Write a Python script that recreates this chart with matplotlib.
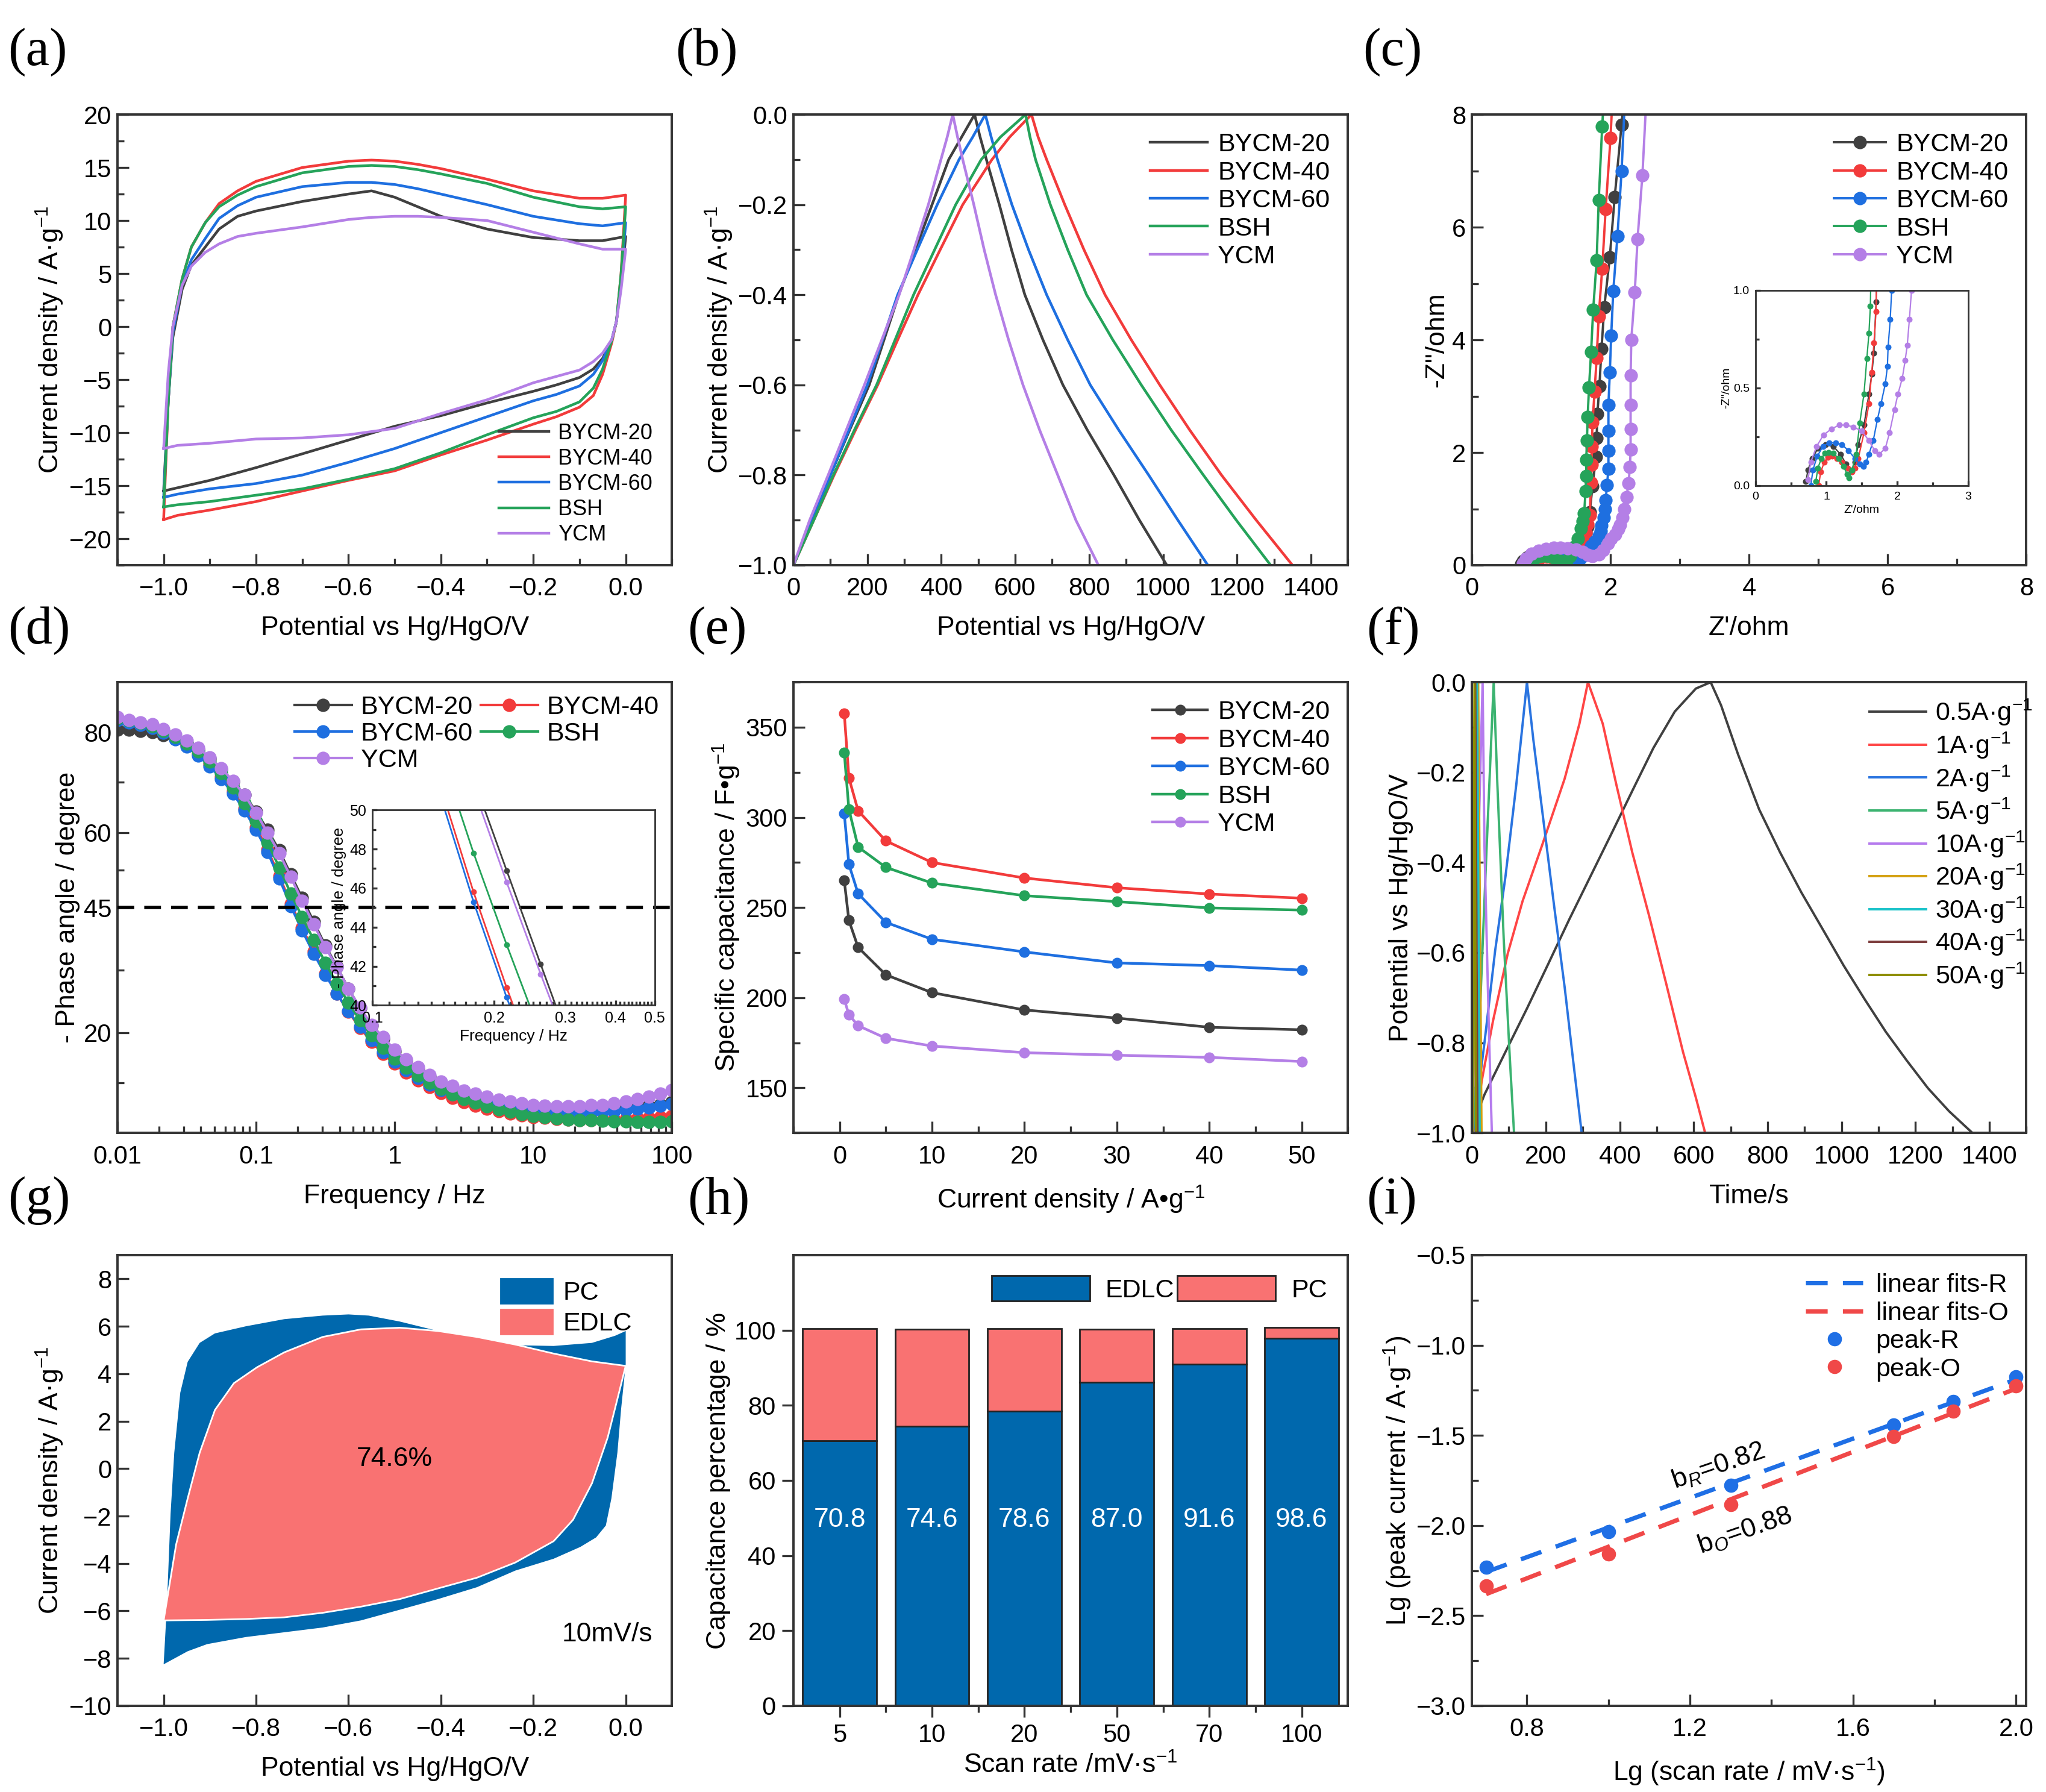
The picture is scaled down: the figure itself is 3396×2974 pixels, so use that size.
import numpy as np
import matplotlib
matplotlib.use("Agg")
import matplotlib.pyplot as plt
from matplotlib.ticker import MultipleLocator, FixedLocator
from matplotlib.patches import Patch

plt.rcParams['font.family'] = ['Liberation Sans', 'DejaVu Sans']
plt.rcParams['mathtext.fontset'] = 'custom'
plt.rcParams['mathtext.rm'] = 'Liberation Sans'
plt.rcParams['mathtext.it'] = 'Liberation Sans:italic'

# colours
C20 = '#404040'
C40 = '#f23b3b'
C60 = '#1e6fe0'
CBSH = '#25a35a'
CYCM = '#b47fe6'
BLUE = '#0068ad'
SALMON = '#f97272'

names = ["BYCM-20", "BYCM-40", "BYCM-60", "BSH", "YCM"]
colors = [C20, C40, C60, CBSH, CYCM]

# ---------------- (a) CV curves ----------------
cv_x_up = [-1.0, -0.99, -0.98, -0.96, -0.94, -0.91, -0.88, -0.84, -0.8, -0.7,
           -0.6, -0.55, -0.5, -0.45, -0.4, -0.3, -0.2, -0.1, -0.05, 0.0]
cv_x_dn = [0.0, -0.01, -0.02, -0.03, -0.05, -0.07, -0.1, -0.15, -0.2, -0.3,
           -0.4, -0.5, -0.6, -0.7, -0.8, -0.9, -0.97, -1.0]
b20_up = [-15.5, -7.0, -1.0, 3.5, 5.8, 7.5, 9.2, 10.4, 10.9, 11.8, 12.5, 12.8, 12.2, 11.3, 10.4, 9.2, 8.4, 8.1, 8.1, 8.5]
b40_up = [-18.2, -7.0, 0.0, 4.5, 7.5, 9.8, 11.6, 12.8, 13.7, 15.0, 15.6, 15.7, 15.6, 15.3, 14.9, 13.9, 12.8, 12.1, 12.1, 12.4]
b60_up = [-16.1, -7.0, -0.5, 4.0, 6.3, 8.3, 10.2, 11.4, 12.2, 13.2, 13.6, 13.6, 13.4, 13.0, 12.5, 11.5, 10.4, 9.7, 9.5, 9.8]
bsh_up = [-17.0, -7.0, 0.0, 4.5, 7.5, 9.8, 11.3, 12.4, 13.2, 14.5, 15.1, 15.2, 15.1, 14.8, 14.4, 13.5, 12.2, 11.3, 11.1, 11.3]
ycm_up = [-11.5, -4.4, 0.0, 3.9, 5.7, 7.0, 7.8, 8.5, 8.8, 9.4, 10.1, 10.3, 10.4, 10.4, 10.3, 10.0, 8.9, 7.8, 7.3, 7.3]
b20_dn = [8.5, 4.0, 0.5, -1.3, -3.0, -4.0, -4.8, -5.5, -6.1, -7.2, -8.4, -9.4, -10.7, -12.0, -13.3, -14.5, -15.2, -15.5]
b40_dn = [12.4, 5.0, 0.5, -1.5, -4.5, -6.5, -7.6, -8.5, -9.2, -10.7, -12.1, -13.6, -14.5, -15.5, -16.5, -17.3, -17.8, -18.2]
b60_dn = [9.8, 4.5, 0.5, -1.2, -3.2, -4.5, -5.6, -6.4, -7.0, -8.5, -10.0, -11.5, -12.8, -14.0, -14.8, -15.3, -15.8, -16.1]
bsh_dn = [11.3, 5.0, 0.5, -1.3, -4.0, -5.8, -7.1, -8.0, -8.6, -10.2, -11.9, -13.4, -14.4, -15.3, -15.9, -16.5, -16.8, -17.0]
ycm_dn = [7.3, 3.5, 0.5, -1.2, -2.5, -3.3, -4.1, -4.7, -5.3, -6.9, -8.2, -9.6, -10.2, -10.5, -10.6, -11.0, -11.2, -11.5]

# ---------------- (b) GCD of samples ----------------
gcd_v_ch = [-1.0, -0.9, -0.8, -0.7, -0.6, -0.5, -0.4, -0.3, -0.2, -0.1, -0.05, 0.0]
gcd_v_dis = [0.0, -0.05, -0.1, -0.2, -0.3, -0.4, -0.5, -0.6, -0.7, -0.8, -0.9, -1.0]
b20_ch = [0, 50, 100, 152, 205, 245, 285, 330, 375, 420, 455, 490]
b40_ch = [0, 55, 110, 168, 228, 282, 337, 397, 458, 537, 585, 644]
b60_ch = [0, 50, 100, 150, 200, 241, 282, 335, 389, 448, 485, 519]
bsh_ch = [0, 55, 108, 165, 225, 275, 325, 382, 439, 508, 560, 628]
ycm_ch = [0, 44, 94, 143, 192, 239, 286, 326, 365, 399, 416, 431]
b20_dis = [490, 505, 522, 557, 590, 626, 675, 729, 795, 867, 936, 1010]
b40_dis = [644, 662, 685, 734, 786, 843, 914, 991, 1072, 1158, 1252, 1350]
b60_dis = [519, 535, 552, 591, 636, 685, 742, 803, 880, 961, 1040, 1121]
bsh_dis = [628, 640, 655, 695, 742, 793, 864, 941, 1022, 1109, 1198, 1291]
ycm_dis = [431, 444, 458, 488, 516, 547, 582, 621, 666, 715, 764, 825]

# ---------------- (c) Nyquist ----------------
b20_zr = [0.71, 0.74, 0.80, 0.88, 0.99, 1.10, 1.20, 1.28, 1.35, 1.40, 1.45, 1.53, 1.60, 1.64, 1.67, 1.70, 1.74, 1.79, 1.80, 1.81, 1.84, 1.87, 1.91, 1.99, 2.06, 2.16, 2.22]
b20_zi = [0.02, 0.08, 0.14, 0.19, 0.21, 0.20, 0.16, 0.11, 0.07, 0.12, 0.21, 0.31, 0.47, 0.57, 0.68, 0.94, 1.40, 1.92, 2.26, 2.68, 3.18, 3.84, 4.58, 5.47, 6.53, 7.82, 8.6]
b40_zr = [0.89, 0.92, 0.97, 1.02, 1.08, 1.15, 1.22, 1.30, 1.36, 1.40, 1.45, 1.53, 1.60, 1.64, 1.67, 1.70, 1.72, 1.73, 1.73, 1.74, 1.77, 1.80, 1.83, 1.88, 1.93, 2.00, 2.04]
b40_zi = [0.00, 0.07, 0.12, 0.145, 0.15, 0.14, 0.12, 0.09, 0.07, 0.09, 0.14, 0.27, 0.42, 0.58, 0.73, 0.89, 1.47, 1.79, 2.11, 2.53, 3.08, 3.68, 4.42, 5.26, 6.32, 7.58, 8.6]
b60_zr = [0.78, 0.81, 0.87, 0.95, 1.04, 1.13, 1.22, 1.31, 1.40, 1.47, 1.52, 1.56, 1.60, 1.66, 1.72, 1.77, 1.83, 1.86, 1.87, 1.90, 1.92, 1.93, 1.95, 1.97, 1.97, 1.97, 1.97, 1.99, 2.01, 2.04, 2.10, 2.16, 2.22]
b60_zi = [0.00, 0.08, 0.15, 0.20, 0.22, 0.22, 0.21, 0.18, 0.14, 0.11, 0.10, 0.12, 0.16, 0.23, 0.34, 0.42, 0.52, 0.61, 0.71, 0.85, 1.00, 1.16, 1.42, 1.71, 2.03, 2.39, 2.84, 3.42, 4.08, 4.87, 5.84, 7.00, 8.6]
bsh_zr = [0.85, 0.88, 0.93, 0.98, 1.03, 1.10, 1.17, 1.24, 1.29, 1.32, 1.36, 1.42, 1.47, 1.53, 1.57, 1.60, 1.62, 1.64, 1.65, 1.65, 1.66, 1.67, 1.69, 1.72, 1.75, 1.80, 1.83, 1.88, 1.92]
bsh_zi = [0.02, 0.09, 0.14, 0.165, 0.17, 0.165, 0.14, 0.10, 0.06, 0.04, 0.08, 0.16, 0.32, 0.47, 0.65, 0.78, 0.92, 1.32, 1.58, 1.87, 2.21, 2.63, 3.16, 3.79, 4.53, 5.41, 6.48, 7.79, 8.6]
ycm_zr = [0.74, 0.78, 0.86, 0.96, 1.07, 1.18, 1.28, 1.38, 1.50, 1.60, 1.68, 1.74, 1.83, 1.89, 1.96, 2.01, 2.07, 2.11, 2.14, 2.17, 2.20, 2.23, 2.26, 2.28, 2.29, 2.29, 2.29, 2.29, 2.30, 2.35, 2.39, 2.46, 2.53]
ycm_zi = [0.03, 0.12, 0.20, 0.26, 0.29, 0.31, 0.31, 0.30, 0.28, 0.23, 0.18, 0.16, 0.19, 0.27, 0.39, 0.47, 0.55, 0.64, 0.72, 0.85, 1.00, 1.21, 1.45, 1.74, 2.05, 2.42, 2.84, 3.37, 4.00, 4.84, 5.79, 6.92, 8.6]

# ---------------- (d) Bode phase ----------------
decade_steps = [1.0, 1.21, 1.47, 1.78, 2.15, 2.61, 3.16, 3.83, 4.64, 5.62, 6.81, 8.25]
bode_freq = [b * 10.0 ** e for e in range(-2, 2) for b in decade_steps] + [100.0]
b20_ph = [80.5, 80.5, 80.3, 80.0, 79.4, 78.7, 77.9, 76.6, 74.8, 72.6, 70.2, 67.5,
          64.2, 60.5, 56.4, 51.6, 46.9, 42.1, 37.4, 33.2, 28.8, 24.9, 21.4, 18.8,
          16.3, 14.3, 12.7, 11.2, 9.9, 8.9, 8.0, 7.3, 6.7, 6.1, 5.7, 5.3,
          5.0, 4.8, 4.6, 4.5, 4.5, 4.5, 4.6, 4.7, 4.9, 5.1, 5.4, 5.7, 6.1]
b40_ph = [82.6, 82.1, 81.6, 81.0, 80.0, 78.8, 77.4, 75.7, 73.6, 71.1, 68.2, 64.8,
          61.0, 56.6, 51.3, 45.8, 40.9, 36.2, 31.8, 27.8, 24.2, 21.0, 18.2, 15.8,
          13.8, 12.0, 10.5, 9.2, 8.0, 7.0, 6.1, 5.4, 4.8, 4.3, 3.9, 3.5,
          3.2, 3.0, 2.8, 2.7, 2.6, 2.6, 2.6, 2.7, 2.8, 2.9, 3.0, 3.2, 3.4]
b60_ph = [82.5, 82.0, 81.5, 80.9, 79.9, 78.6, 77.2, 75.4, 73.2, 70.7, 67.8, 64.4,
          60.5, 56.1, 50.8, 45.3, 40.4, 35.8, 31.6, 27.8, 24.3, 21.2, 18.5, 16.2,
          14.2, 12.5, 11.0, 9.7, 8.6, 7.7, 6.9, 6.2, 5.7, 5.2, 4.8, 4.5,
          4.3, 4.1, 4.0, 4.0, 4.0, 4.1, 4.2, 4.4, 4.6, 4.8, 5.1, 5.4, 5.8]
bsh_ph = [82.8, 82.3, 81.8, 81.3, 80.3, 79.1, 77.8, 76.2, 74.2, 71.8, 69.0, 65.8,
          62.2, 58.0, 53.0, 47.8, 43.1, 38.5, 34.0, 29.8, 26.0, 22.5, 19.5, 17.0,
          14.8, 13.0, 11.4, 10.0, 8.8, 7.7, 6.8, 6.0, 5.3, 4.7, 4.2, 3.8,
          3.4, 3.1, 2.9, 2.7, 2.6, 2.5, 2.4, 2.3, 2.3, 2.2, 2.2, 2.2, 2.3]
ycm_ph = [83.0, 82.5, 82.0, 81.6, 80.6, 79.5, 78.4, 76.9, 75.0, 72.8, 70.3, 67.5,
          63.9, 60.0, 55.9, 51.1, 46.3, 41.6, 37.1, 33.1, 28.8, 25.0, 21.6, 19.1,
          16.6, 14.7, 13.1, 11.6, 10.3, 9.4, 8.4, 7.8, 7.2, 6.6, 6.25, 5.9,
          5.6, 5.4, 5.3, 5.3, 5.3, 5.5, 5.6, 5.9, 6.25, 6.75, 7.2, 7.8, 8.6]

# ---------------- (e) rate capability ----------------
cur_density = [0.5, 1, 2, 5, 10, 20, 30, 40, 50]
b20_cap = [265.0, 242.9, 227.9, 212.7, 202.8, 193.2, 188.7, 183.6, 182.2]
b40_cap = [357.7, 322.0, 303.7, 287.0, 275.0, 266.4, 261.0, 257.5, 255.2]
b60_cap = [302.1, 274.0, 257.7, 241.8, 232.4, 225.4, 219.3, 217.8, 215.3]
bsh_cap = [335.9, 304.5, 283.6, 272.3, 263.6, 256.6, 253.3, 249.8, 248.6]
ycm_cap = [199.1, 190.6, 184.5, 177.5, 173.2, 169.5, 168.1, 166.9, 164.6]

# ---------------- (f) GCD at different current densities ----------------
rate_labels = ["0.5", "1", "2", "5", "10", "20", "30", "40", "50"]
rate_colors = [C20, '#ff4545', '#2a74e0', '#3cb371', '#b57bee', '#d4a010', '#19c2c9', '#7b3b3b', '#8c8c00']
f05_t = [3, 11, 34, 91, 149, 206, 263, 320, 377, 434, 491, 549, 606, 646, 674, 720, 777, 834, 891, 949, 1006, 1063, 1120, 1177, 1234, 1291, 1354]
f05_v = [-1.0, -0.963, -0.915, -0.82, -0.724, -0.626, -0.527, -0.432, -0.337, -0.241, -0.146, -0.065, -0.014, 0.0, -0.051, -0.16, -0.282, -0.378, -0.466, -0.548, -0.629, -0.704, -0.776, -0.84, -0.901, -0.952, -1.0]
f1_t = [3, 29, 57, 97, 137, 189, 251, 291, 314, 354, 391, 434, 480, 526, 571, 606, 631]
f1_v = [-1.0, -0.874, -0.752, -0.602, -0.486, -0.364, -0.214, -0.092, 0.0, -0.092, -0.228, -0.378, -0.52, -0.67, -0.82, -0.922, -1.0]
f2_t = [3, 34, 63, 91, 120, 149, 166, 194, 223, 251, 274, 297]
f2_v = [-1.0, -0.8, -0.595, -0.43, -0.228, 0.0, -0.126, -0.31, -0.5, -0.677, -0.84, -1.0]
f5_t = [3, 23, 40, 59, 69, 86, 103, 114]
f5_v = [-1.0, -0.707, -0.364, 0.0, -0.228, -0.568, -0.84, -1.0]
f10_t = [2, 10, 29, 34, 46, 54]
f10_v = [-1.0, -0.6, 0.0, -0.364, -0.772, -1.0]
f20_t = [2, 17, 26]
f30_t = [1, 14, 21]
f40_t = [1, 9, 15]
f50_t = [1, 7, 11]
fast_v = [-1.0, 0.0, -1.0]

# ---------------- (g) capacitive contribution CV ----------------
pc_up_x = [-1.0, -0.993, -0.985, -0.977, -0.964, -0.948, -0.922, -0.889, -0.822, -0.739, -0.656, -0.6, -0.556, -0.489, -0.406, -0.322, -0.239, -0.156, -0.073, -0.023, 0.0]
pc_up_y = [-8.25, -5.8, -1.9, 0.67, 3.2, 4.5, 5.3, 5.7, 6.0, 6.3, 6.45, 6.5, 6.45, 6.2, 5.8, 5.5, 5.2, 5.17, 5.3, 5.6, 5.8]
pc_dn_x = [0.0, 0.0, -0.01, -0.018, -0.031, -0.043, -0.064, -0.098, -0.156, -0.239, -0.322, -0.406, -0.489, -0.573, -0.656, -0.739, -0.822, -0.906, -0.948, -1.0]
pc_dn_y = [5.8, 4.4, 2.5, 0.67, -1.26, -2.4, -2.9, -3.3, -3.8, -4.3, -5.0, -5.5, -5.95, -6.4, -6.7, -6.9, -7.1, -7.4, -7.7, -8.25]
ed_up_x = [-1.0, -0.973, -0.948, -0.922, -0.889, -0.848, -0.798, -0.739, -0.656, -0.573, -0.489, -0.406, -0.322, -0.239, -0.156, -0.073, 0.0]
ed_up_y = [-6.4, -3.2, -1.26, 0.67, 2.47, 3.6, 4.27, 4.9, 5.55, 5.87, 5.94, 5.8, 5.55, 5.23, 4.85, 4.52, 4.33]
ed_dn_x = [0.0, -0.014, -0.039, -0.073, -0.114, -0.156, -0.239, -0.322, -0.406, -0.489, -0.573, -0.656, -0.739, -0.822, -0.906, -1.0]
ed_dn_y = [4.33, 3.24, 1.31, -0.62, -2.16, -3.06, -3.96, -4.6, -5.05, -5.5, -5.82, -6.08, -6.27, -6.34, -6.38, -6.4]

# ---------------- (h) contribution bars ----------------
scan_rates = ["5", "10", "20", "50", "70", "100"]
edlc_height = [70.6, 74.4, 78.5, 86.2, 90.9, 97.8]
pc_height = [29.8, 25.8, 21.9, 14.0, 9.5, 2.9]
edlc_labels = ["70.8", "74.6", "78.6", "87.0", "91.6", "98.6"]

# ---------------- (i) b-value ----------------
lg_rate = [0.70, 1.00, 1.30, 1.70, 1.845, 2.00]
peak_r = [-2.233, -2.033, -1.776, -1.443, -1.313, -1.176]
peak_o = [-2.334, -2.157, -1.885, -1.506, -1.367, -1.224]


fig = plt.figure(figsize=(16.98, 14.87), dpi=200)
col_x = [0.0574, 0.3878, 0.7194]
row_y = [0.6846, 0.3678, 0.0481]
W, H = 0.271, 0.2515
TICK_FS = 15
LAB_FS = 16
LEG_FS = 15.5


def style(ax, fs=TICK_FS, lw=1.4, direction='in'):
    for s in ax.spines.values():
        s.set_linewidth(lw)
        s.set_color('#333333')
    ax.tick_params(which='both', direction=direction, top=False, right=False,
                   labelsize=fs, width=1.2, color='#333333')
    ax.tick_params(which='major', length=7)
    ax.tick_params(which='minor', length=4)


def new_ax(r, c, direction='in'):
    ax = fig.add_axes([col_x[c], row_y[r], W, H])
    style(ax, direction=direction)
    if direction == 'in':
        ax.tick_params(axis='x', which='both', pad=7)
    return ax


def labels(ax, xl, yl, xpad=9, ypad=2):
    ax.set_xlabel(xl, fontsize=LAB_FS, labelpad=xpad)
    ax.set_ylabel(yl, fontsize=LAB_FS, labelpad=ypad)


# (a)
ax = new_ax(0, 0)
ups = [b20_up, b40_up, b60_up, bsh_up, ycm_up]
dns = [b20_dn, b40_dn, b60_dn, bsh_dn, ycm_dn]
for name, col, up, dn in zip(names, colors, ups, dns):
    ax.plot(cv_x_up + cv_x_dn, up + dn, color=col, lw=1.6, label=name)
ax.set_xlim(-1.1, 0.1)
ax.set_ylim(-22.5, 20)
ax.xaxis.set_major_locator(MultipleLocator(0.2))
ax.xaxis.set_minor_locator(MultipleLocator(0.1))
ax.yaxis.set_major_locator(MultipleLocator(5))
ax.yaxis.set_minor_locator(MultipleLocator(2.5))
labels(ax, "Potential vs Hg/HgO/V", "Current density / A·g$^{-1}$")
ax.legend(loc='lower right', bbox_to_anchor=(1.0, 0.0), fontsize=13, frameon=False,
          handlelength=2.3, labelspacing=0.2, handletextpad=0.4)

# (b)
ax = new_ax(0, 1)
chs = [b20_ch, b40_ch, b60_ch, bsh_ch, ycm_ch]
diss = [b20_dis, b40_dis, b60_dis, bsh_dis, ycm_dis]
for name, col, ch, ds in zip(names, colors, chs, diss):
    ax.plot(ch + ds, gcd_v_ch + gcd_v_dis, color=col, lw=1.6, label=name)
ax.set_xlim(0, 1500)
ax.set_ylim(-1.0, 0.0)
ax.xaxis.set_major_locator(MultipleLocator(200))
ax.xaxis.set_minor_locator(MultipleLocator(100))
ax.yaxis.set_major_locator(MultipleLocator(0.2))
ax.yaxis.set_minor_locator(MultipleLocator(0.1))
labels(ax, "Potential vs Hg/HgO/V", "Current density / A·g$^{-1}$")
ax.legend(loc='upper right', fontsize=LEG_FS, frameon=False, handlelength=2.2,
          labelspacing=0.15, handletextpad=0.4, borderaxespad=0.3)

# (c)
ax = new_ax(0, 2)
zrs = [b20_zr, b40_zr, b60_zr, bsh_zr, ycm_zr]
zis = [b20_zi, b40_zi, b60_zi, bsh_zi, ycm_zi]
for name, col, zr, zi in zip(names, colors, zrs, zis):
    ax.plot(zr, zi, color=col, lw=1.4, marker='o', ms=7, label=name)
ax.set_xlim(0, 8)
ax.set_ylim(0, 8)
ax.xaxis.set_major_locator(MultipleLocator(2))
ax.xaxis.set_minor_locator(MultipleLocator(1))
ax.yaxis.set_major_locator(MultipleLocator(2))
ax.yaxis.set_minor_locator(MultipleLocator(1))
labels(ax, "Z'/ohm", '-Z"/ohm')
ax.legend(loc='upper right', fontsize=LEG_FS, frameon=False, handlelength=2.0,
          labelspacing=0.15, handletextpad=0.4, borderaxespad=0.3)

ins = fig.add_axes([0.858, 0.729, 0.104, 0.109])
style(ins, fs=7, lw=1.0)
ins.tick_params(which='major', length=3)
ins.tick_params(which='minor', length=2)
for col, zr, zi in zip(colors, zrs, zis):
    ins.plot(zr, zi, color=col, lw=0.8, marker='o', ms=2.6)
ins.set_xlim(0, 3)
ins.set_ylim(0, 1)
ins.xaxis.set_major_locator(MultipleLocator(1))
ins.xaxis.set_minor_locator(MultipleLocator(0.5))
ins.yaxis.set_major_locator(MultipleLocator(0.5))
ins.yaxis.set_minor_locator(MultipleLocator(0.25))
ins.yaxis.set_major_formatter(matplotlib.ticker.FormatStrFormatter('%.1f'))
ins.set_xlabel("Z'/ohm", fontsize=7, labelpad=2)
ins.set_ylabel('-Z"/ohm', fontsize=7, labelpad=1)

# (d)
ax = new_ax(1, 0)
phs = [b20_ph, b40_ph, b60_ph, bsh_ph, ycm_ph]
lines_d = []
for name, col, ph in zip(names, colors, phs):
    ln, = ax.plot(bode_freq, ph, color=col, lw=1.5, marker='o', ms=7,
                  markeredgecolor=col, markerfacecolor=col, label=name)
    lines_d.append(ln)
ax.axhline(45, color='k', lw=2, ls=(0, (5, 3)), zorder=5)
ax.set_xscale('log')
ax.set_xlim(0.01, 100)
ax.set_ylim(0, 90)
ax.set_xticks([0.01, 0.1, 1, 10, 100])
ax.set_xticklabels(['0.01', '0.1', '1', '10', '100'])
ax.set_yticks([20, 45, 60, 80])
ax.yaxis.set_minor_locator(FixedLocator([10, 32.5, 52.5, 70]))
labels(ax, "Frequency / Hz", "- Phase angle / degree")
order = [0, 2, 4, 1, 3]
ax.legend([lines_d[i] for i in order], [names[i] for i in order], ncol=2,
          loc='upper right', fontsize=LEG_FS, frameon=False, handlelength=2.2,
          labelspacing=0.1, handletextpad=0.35, columnspacing=0.3, borderaxespad=0.1)

ins = fig.add_axes([0.182, 0.439, 0.138, 0.109])
style(ins, fs=9, lw=1.0)
ins.patch.set_alpha(0)
ins.tick_params(which='major', length=3)
ins.tick_params(which='minor', length=2)
for col, ph in zip(colors, phs):
    ins.plot(bode_freq, ph, color=col, lw=1.0, marker='o', ms=2.5)
ins.set_xscale('log')
ins.set_xlim(0.1, 0.5)
ins.set_ylim(40, 50)
ins.set_xticks([0.1, 0.2, 0.3, 0.4, 0.5])
ins.set_xticklabels(['0.1', '0.2', '0.3', '0.4', '0.5'])
ins.xaxis.set_minor_locator(FixedLocator([v / 100 for v in range(11, 50) if v % 10]))
ins.xaxis.set_minor_formatter(matplotlib.ticker.NullFormatter())
ins.yaxis.set_major_locator(MultipleLocator(2))
ins.yaxis.set_minor_locator(MultipleLocator(1))
ins.set_xlabel("Frequency / Hz", fontsize=9.5, labelpad=2)
ins.set_ylabel("- Phase angle / degree", fontsize=9.5, labelpad=2)

# (e)
ax = new_ax(1, 1)
caps = [b20_cap, b40_cap, b60_cap, bsh_cap, ycm_cap]
for name, col, cp in zip(names, colors, caps):
    ax.plot(cur_density, cp, color=col, lw=1.6, marker='o', ms=5.5, label=name)
ax.set_xlim(-5, 55)
ax.set_ylim(125, 375)
ax.xaxis.set_major_locator(MultipleLocator(10))
ax.xaxis.set_minor_locator(MultipleLocator(5))
ax.yaxis.set_major_locator(MultipleLocator(50))
ax.yaxis.set_minor_locator(MultipleLocator(25))
labels(ax, "Current density / A•g$^{-1}$", "Specific capacitance / F•g$^{-1}$")
ax.legend(loc='upper right', fontsize=LEG_FS, frameon=False, handlelength=2.1,
          labelspacing=0.15, handletextpad=0.4, borderaxespad=0.3)

# (f)
ax = new_ax(1, 2)
f_t = [f05_t, f1_t, f2_t, f5_t, f10_t, f20_t, f30_t, f40_t, f50_t]
f_v = [f05_v, f1_v, f2_v, f5_v, f10_v, fast_v, fast_v, fast_v, fast_v]
for lab, col, tt, vv in zip(rate_labels, rate_colors, f_t, f_v):
    ax.plot(tt, vv, color=col, lw=1.4, label=lab + "A·g$^{-1}$")
ax.set_xlim(0, 1500)
ax.set_ylim(-1.0, 0.0)
ax.xaxis.set_major_locator(MultipleLocator(200))
ax.xaxis.set_minor_locator(MultipleLocator(100))
ax.yaxis.set_major_locator(MultipleLocator(0.2))
ax.yaxis.set_minor_locator(MultipleLocator(0.1))
labels(ax, "Time/s", "Potential vs Hg/HgO/V")
ax.legend(loc='upper right', bbox_to_anchor=(1.04, 1.0), fontsize=LEG_FS, frameon=False,
          handlelength=2.2, labelspacing=0.12, handletextpad=0.35, borderaxespad=0.2)

# (g)
ax = new_ax(2, 0)
ax.fill(pc_up_x + pc_dn_x, pc_up_y + pc_dn_y, color=BLUE, lw=0, label='PC')
ax.fill(ed_up_x + ed_dn_x, ed_up_y + ed_dn_y, facecolor=SALMON, edgecolor='white',
        lw=1.0, label='EDLC')
ax.text(-0.5, 0.4, "74.6%", fontsize=16, ha='center', va='center')
ax.text(-0.04, -7.0, "10mV/s", fontsize=16, ha='center', va='center')
ax.set_xlim(-1.1, 0.1)
ax.set_ylim(-10, 9)
ax.xaxis.set_major_locator(MultipleLocator(0.2))
ax.yaxis.set_major_locator(MultipleLocator(2))
labels(ax, "Potential vs Hg/HgO/V", "Current density / A·g$^{-1}$")
ax.legend(handles=[Patch(color=BLUE, label='PC'), Patch(color=SALMON, label='EDLC')],
          loc='upper right', bbox_to_anchor=(0.97, 1.0), fontsize=LEG_FS, frameon=False,
          handlelength=2.0, handleheight=1.1, labelspacing=0.15, handletextpad=0.4)

# (h)
ax = new_ax(2, 1, direction='out')
xpos = np.arange(len(scan_rates))
ax.bar(xpos, edlc_height, width=0.8, color=BLUE, edgecolor='#222222', lw=1.0)
ax.bar(xpos, pc_height, width=0.8, bottom=edlc_height, color=SALMON,
       edgecolor='#222222', lw=1.0)
for xp, lab in zip(xpos, edlc_labels):
    ax.text(xp, 49.5, lab, color='white', fontsize=16, ha='center', va='center')
ax.set_xlim(-0.5, 5.5)
ax.set_ylim(0, 120)
ax.set_xticks(xpos)
ax.set_xticklabels(scan_rates)
ax.xaxis.set_minor_locator(FixedLocator(xpos[:-1] + 0.5))
ax.set_yticks([0, 20, 40, 60, 80, 100])
labels(ax, "Scan rate /mV·s$^{-1}$", "Capacitance percentage / %", xpad=3)
ax.legend(handles=[Patch(facecolor=BLUE, edgecolor='#222222', label='EDLC'),
                   Patch(facecolor=SALMON, edgecolor='#222222', label='PC')],
          ncol=2, loc='upper right', bbox_to_anchor=(1.0, 1.0), fontsize=LEG_FS,
          frameon=False, handlelength=3.8, handleheight=1.1, handletextpad=0.6,
          columnspacing=0.1, borderaxespad=0.4)

# (i)
ax = new_ax(2, 2)
fit_r = np.polyfit(lg_rate, peak_r, 1)
fit_o = np.polyfit(lg_rate, peak_o, 1)
xr = np.array([lg_rate[0], lg_rate[-1]])
ax.plot(xr, np.polyval(fit_r, xr), color='#1f6fe5', lw=2.6, ls=(0, (5, 3.5)), label='linear fits-R')
ax.plot(xr, np.polyval(fit_o, xr), color='#f04848', lw=2.6, ls=(0, (5, 3.5)), label='linear fits-O')
ax.plot(lg_rate, peak_r, 'o', color='#1f6fe5', ms=7.5, label='peak-R')
ax.plot(lg_rate, peak_o, 'o', color='#f04848', ms=7.5, label='peak-O')
ax.text(1.27, -1.67, "b$_R$=0.82", fontsize=16, rotation=19, ha='center', va='center')
ax.text(1.335, -2.03, "b$_O$=0.88", fontsize=16, rotation=19, ha='center', va='center')
ax.set_xlim(0.665, 2.025)
ax.set_ylim(-3.0, -0.5)
ax.set_xticks([0.8, 1.2, 1.6, 2.0])
ax.xaxis.set_minor_locator(FixedLocator([1.0, 1.4, 1.8]))
ax.yaxis.set_major_locator(MultipleLocator(0.5))
ax.yaxis.set_minor_locator(MultipleLocator(0.25))
labels(ax, "Lg (scan rate / mV·s$^{-1}$)", "Lg (peak current / A·g$^{-1}$)")
ax.legend(loc='upper right', fontsize=LEG_FS, frameon=False, handlelength=2.2,
          labelspacing=0.15, handletextpad=0.5, borderaxespad=0.3)

# panel letters
letters = [("(a)", 0.004, 0.971), ("(b)", 0.330, 0.971), ("(c)", 0.666, 0.971),
           ("(d)", 0.004, 0.648), ("(e)", 0.336, 0.648), ("(f)", 0.668, 0.648),
           ("(g)", 0.004, 0.330), ("(h)", 0.336, 0.330), ("(i)", 0.668, 0.330)]
for txt, x, y in letters:
    fig.text(x, y, txt, fontsize=32, family='Liberation Serif', ha='left', va='center')

fig.savefig("out.png", dpi=200)
